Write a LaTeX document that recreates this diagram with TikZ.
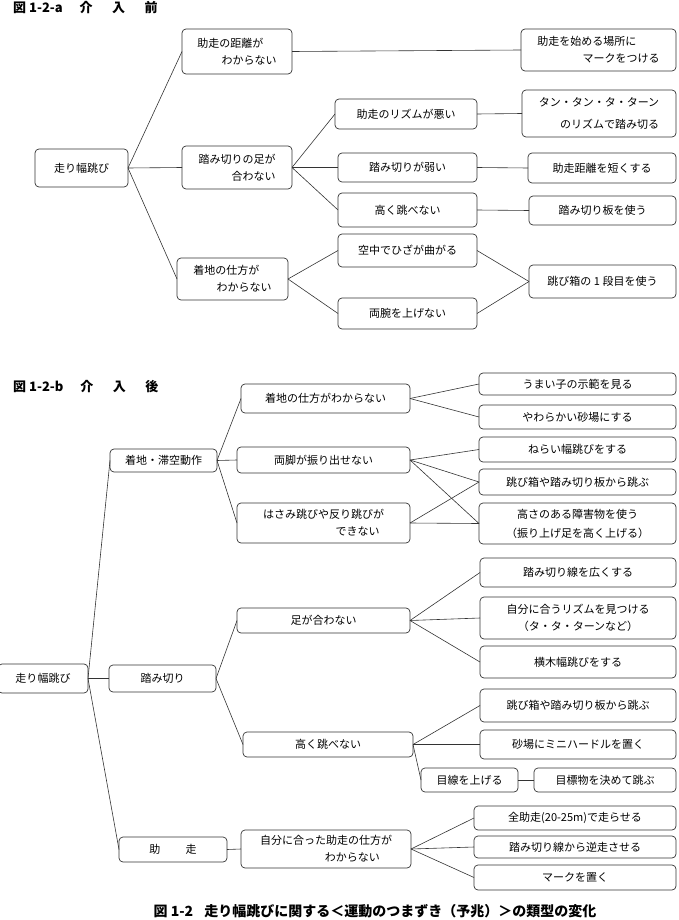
\documentclass[tikz,border=0pt]{standalone}
\usepackage{fontspec}
\setmainfont{Noto Sans CJK JP}
\usetikzlibrary{positioning}

\begin{document}
\begin{tikzpicture}[
        x=1pt, y=-1pt,
        font=\fontsize{11}{17}\selectfont,
        cell/.style={rectangle, draw=black!80, line width=0.7pt, rounded corners=4pt, inner sep=1pt, outer sep=0pt, align=center},
        size/.style 2 args={minimum width=#1pt, minimum height=#2pt},
        link/.style={draw=black!80, line width=0.6pt},
        headline/.style={font=\bfseries\fontsize{13}{15}\selectfont, anchor=west, inner sep=0pt},
        caption/.style={font=\bfseries\fontsize{14}{16}\selectfont, inner sep=0pt}
    ]
    \useasboundingbox (0,0) rectangle (679,920);

    % --- figure a
    \node (titleA) [headline] at (13,8) {図 1-2-a\hspace{1.3em}介\hspace{1.5em}入\hspace{1.5em}前};

    \node (rootA) [cell, size={93}{38}] at (81.5,168) {走り幅跳び};

    \node (a1) [cell, size={110}{45}, align=left] at (237,51.5) {助走の距離が\\\hspace*{2.2em}わからない};
    \node (a2) [cell, size={110}{43}, align=right] at (237,167.5) {踏み切りの足が\\合わない};
    \node (a3) [cell, size={111}{42}, align=left] at (232.5,279) {着地の仕方が\\\hspace*{2.1em}わからない};

    \node (b1) [cell, size={142}{30}] at (406,114) {助走のリズムが悪い};
    \node (b2) [cell, size={139}{29}] at (407.5,167.5) {踏み切りが弱い};
    \node (b3) [cell, size={139}{34}] at (407.5,210) {高く跳べない};
    \node (b4) [cell, size={139}{33}] at (407.5,250.5) {空中でひざが曲がる};
    \node (b5) [cell, size={139}{31}] at (407.5,313.5) {両腕を上げない};

    \node (c1) [cell, size={155}{42}, align=left] at (598.5,50) {助走を始める場所に\\\hspace*{4.1em}マークをつける};
    \node (c2) [cell, size={154}{47}, align=right] at (599,113.5) {タン・タン・タ・ターン\\[5pt]のリズムで踏み切る};
    \node (c3) [cell, size={148}{30}] at (602,168) {助走距離を短くする};
    \node (c4) [cell, size={147}{29}] at (602.5,210.5) {踏み切り板を使う};
    \node (c5) [cell, size={147}{33}] at (602.5,281.5) {跳び箱の 1 段目を使う};

    \draw [link] (rootA.east) -- (a1.west);
    \draw [link] (rootA.east) -- (a2.west);
    \draw [link] (rootA.east) -- (a3.west);
    \draw [link] (a1.east) -- (c1.west);
    \draw [link] (a2.east) -- (b1.west);
    \draw [link] (a2.east) -- (b2.west);
    \draw [link] (a2.east) -- (b3.west);
    \draw [link] (a3.east) -- (b4.west);
    \draw [link] (a3.east) -- (b5.west);
    \draw [link] (b1.east) -- (c2.west);
    \draw [link] (b2.east) -- (c3.west);
    \draw [link] (b3.east) -- (c4.west);
    \draw [link] (b4.east) -- (c5.west);
    \draw [link] (b5.east) -- (c5.west);

    % --- figure b
    \node (titleB) [headline] at (13,387) {図 1-2-b\hspace{1.3em}介\hspace{1.5em}入\hspace{1.5em}後};

    \node (rootB) [cell, size={90}{29}] at (43,678.5) {走り幅跳び};

    \node (l1) [cell, size={107}{23}] at (163.5,460.5) {着地・滞空動作};
    \node (l2) [cell, size={107}{27}] at (162.5,678.5) {踏み切り};
    \node (l3) [cell, size={108}{25}] at (173,849.5) {助\hspace{2.3em}走};

    \node (m1) [cell, size={169}{29}] at (325.5,398.5) {着地の仕方がわからない};
    \node (m2) [cell, size={173}{26}] at (323.5,460) {両脚が振り出せない};
    \node (m3) [cell, size={173}{40}, align=left] at (323.5,523) {はさみ跳びや反り跳びが\\\hspace*{6.6em}できない};
    \node (m4) [cell, size={173}{25}] at (323.5,620.5) {足が合わない};
    \node (m5) [cell, size={170}{25}] at (328,744.5) {高く跳べない};
    \node (m6) [cell, size={97}{24}] at (469.5,780) {目線を上げる};
    \node (m7) [cell, size={170}{38}, align=left] at (326,849) {自分に合った助走の仕方が\\\hspace*{5.9em}わからない};

    \node (r1) [cell, size={197}{22}] at (577.5,384) {うまい子の示範を見る};
    \node (r2) [cell, size={197}{24}] at (577.5,417) {やわらかい砂場にする};
    \node (r3) [cell, size={197}{25}] at (577.5,449.5) {ねらい幅跳びをする};
    \node (r4) [cell, size={197}{26}] at (577.5,482) {跳び箱や踏み切り板から跳ぶ};
    \node (r5) [cell, size={197}{41}] at (577.5,523.5) {高さのある障害物を使う\\[2pt]（振り上げ足を高く上げる）};
    \node (r6) [cell, size={196}{29}] at (578,572.5) {踏み切り線を広くする};
    \node (r7) [cell, size={196}{42}] at (578,618) {自分に合うリズムを見つける\\（タ・タ・ターンなど）};
    \node (r8) [cell, size={196}{32}] at (578,662) {横木幅跳びをする};
    \node (r9) [cell, size={196}{33}] at (578,705.5) {跳び箱や踏み切り板から跳ぶ};
    \node (r10) [cell, size={196}{29}] at (578,744.5) {砂場にミニハードルを置く};
    \node (r11) [cell, size={142}{24}, right=16pt of m6] {目標物を決めて跳ぶ};
    \node (r12) [cell, size={202}{24}] at (575,818) {全助走(20-25m)で走らせる};
    \node (r13) [cell, size={202}{22}] at (575,847) {踏み切り線から逆走させる};
    \node (r14) [cell, size={202}{25}] at (575,877.5) {マークを置く};

    \draw [link] (rootB.east) -- (l1.west);
    \draw [link] (rootB.east) -- (l2.west);
    \draw [link] (rootB.east) -- (l3.west);

    \draw [link] (l1.east) -- (m1.west);
    \draw [link] (l1.east) -- (m2.west);
    \draw [link] (l1.east) -- (m3.west);
    \draw [link] (m1.east) -- (r1.west);
    \draw [link] (m1.east) -- (r2.west);
    \draw [link] (m2.east) -- (r3.west);
    \draw [link] (m2.east) -- (r4.west);
    \draw [link] (m2.east) -- (r5.west);
    \draw [link] (m3.east) -- (r4.west);
    \draw [link] (m3.east) -- (r5.west);

    \draw [link] (l2.east) -- (m4.west);
    \draw [link] (l2.east) -- (m5.west);
    \draw [link] (m4.east) -- (r6.west);
    \draw [link] (m4.east) -- (r7.west);
    \draw [link] (m4.east) -- (r8.west);
    \draw [link] (m5.east) -- (r9.west);
    \draw [link] (m5.east) -- (r10.west);
    \draw [link] (m5.east) -- (m6.west);
    \draw [link] (m6.east) -- (r11.west);

    \draw [link] (l3.east) -- (m7.west);
    \draw [link] (m7.east) -- (r12.west);
    \draw [link] (m7.east) -- (r13.west);
    \draw [link] (m7.east) -- (r14.west);

    \node (caption) [caption] at (375,911) {図 1-2\hspace{0.8em}走り幅跳びに関する＜運動のつまずき（予兆）＞の類型の変化};

\end{tikzpicture}
\end{document}
